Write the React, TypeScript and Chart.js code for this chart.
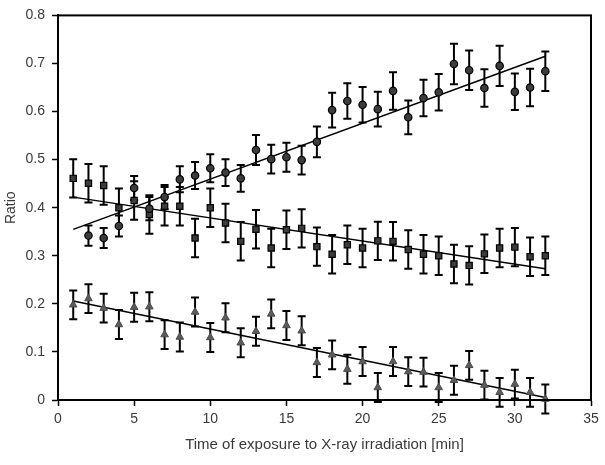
import React, { useEffect, useRef } from "react";
import { Chart, registerables } from "chart.js";

Chart.register(...registerables);

// Circles (increasing series)
const circleX = [2, 3, 4, 5, 6, 7, 8, 9, 10, 11, 12, 13, 14, 15, 16, 17, 18, 19, 20, 21, 22, 23, 24, 25, 26, 27, 28, 29, 30, 31, 32];
const circleY = [0.342, 0.337, 0.362, 0.441, 0.398, 0.422, 0.459, 0.467, 0.482, 0.473, 0.461, 0.520, 0.501, 0.505, 0.499, 0.537, 0.603, 0.622, 0.614, 0.605, 0.643, 0.588, 0.628, 0.640, 0.699, 0.686, 0.649, 0.695, 0.641, 0.650, 0.684];
const circleErr = [0.021, 0.021, 0.022, 0.025, 0.024, 0.025, 0.027, 0.028, 0.029, 0.028, 0.028, 0.031, 0.030, 0.030, 0.030, 0.032, 0.036, 0.037, 0.037, 0.036, 0.039, 0.035, 0.038, 0.038, 0.042, 0.041, 0.039, 0.042, 0.038, 0.039, 0.041];

// Squares (slowly decreasing series)
const squareX = [1, 2, 3, 4, 5, 6, 7, 8, 9, 10, 11, 12, 13, 14, 15, 16, 17, 18, 19, 20, 21, 22, 23, 24, 25, 26, 27, 28, 29, 30, 31, 32];
const squareY = [0.461, 0.451, 0.446, 0.400, 0.415, 0.386, 0.403, 0.403, 0.337, 0.400, 0.368, 0.330, 0.355, 0.316, 0.354, 0.357, 0.319, 0.303, 0.323, 0.316, 0.331, 0.330, 0.313, 0.303, 0.300, 0.283, 0.280, 0.304, 0.316, 0.318, 0.298, 0.300];
const squareErr = [0.04, 0.04, 0.04, 0.04, 0.04, 0.04, 0.04, 0.04, 0.04, 0.04, 0.04, 0.04, 0.04, 0.04, 0.04, 0.04, 0.04, 0.04, 0.04, 0.04, 0.04, 0.04, 0.04, 0.04, 0.04, 0.04, 0.04, 0.04, 0.04, 0.04, 0.04, 0.04];

// Triangles (decreasing series)
const triX = [1, 2, 3, 4, 5, 6, 7, 8, 9, 10, 11, 12, 13, 14, 15, 16, 17, 18, 19, 20, 21, 22, 23, 24, 25, 26, 27, 28, 29, 30, 31, 32];
const triY = [0.198, 0.211, 0.191, 0.157, 0.193, 0.194, 0.136, 0.131, 0.183, 0.130, 0.171, 0.119, 0.143, 0.179, 0.155, 0.144, 0.078, 0.094, 0.064, 0.080, 0.026, 0.080, 0.059, 0.058, 0.026, 0.041, 0.072, 0.031, 0.016, 0.033, 0.016, 0.002];
const triErr = [0.03, 0.03, 0.03, 0.03, 0.03, 0.03, 0.03, 0.03, 0.03, 0.03, 0.03, 0.03, 0.03, 0.03, 0.03, 0.03, 0.03, 0.03, 0.03, 0.03, 0.03, 0.03, 0.03, 0.03, 0.03, 0.03, 0.03, 0.03, 0.03, 0.03, 0.03, 0.03];

// Trend lines (endpoints)
const trendX = [1, 32];
const circleTrend = [0.355, 0.715];
const squareTrend = [0.422, 0.273];
const triTrend = [0.206, 0.005];

// Axis ticks
const xTicks = [0, 5, 10, 15, 20, 25, 30, 35];
const yTicks = [0, 0.1, 0.2, 0.3, 0.4, 0.5, 0.6, 0.7, 0.8];

const xTitle = "Time of exposure to X-ray irradiation [min]";
const yTitle = "Ratio";

const TEXT = "#3a3a3a";
const FAMILY = "'Liberation Sans', Arial, sans-serif";
const TICK_FONT = { family: FAMILY, size: 14 };
const XTITLE_FONT = { family: FAMILY, size: 15 };
const YTITLE_FONT = { family: FAMILY, size: 14 };

const pts = (xs: number[], ys: number[]) => xs.map((x, i) => ({ x, y: ys[i] }));

const errorSets = [
  { xs: circleX, ys: circleY, es: circleErr },
  { xs: squareX, ys: squareY, es: squareErr },
  { xs: triX, ys: triY, es: triErr },
];

const errorBarPlugin = {
  id: "errorBars",
  beforeDatasetsDraw(chart: any) {
    const { ctx, scales } = chart;
    const xs = scales.x;
    const ys = scales.y;
    ctx.save();
    ctx.strokeStyle = "#000";
    ctx.lineWidth = 2;
    for (const s of errorSets) {
      s.xs.forEach((x, i) => {
        const px = xs.getPixelForValue(x);
        const top = ys.getPixelForValue(s.ys[i] + s.es[i]);
        const bot = ys.getPixelForValue(s.ys[i] - s.es[i]);
        ctx.beginPath();
        ctx.moveTo(px, top);
        ctx.lineTo(px, bot);
        ctx.moveTo(px - 4, top);
        ctx.lineTo(px + 4, top);
        ctx.moveTo(px - 4, bot);
        ctx.lineTo(px + 4, bot);
        ctx.stroke();
      });
    }
    ctx.restore();
  },
};

const framePlugin = {
  id: "frame",
  afterDraw(chart: any) {
    const { ctx, chartArea } = chart;
    ctx.save();
    ctx.strokeStyle = "#000";
    ctx.lineWidth = 2;
    ctx.strokeRect(chartArea.left, chartArea.top, chartArea.right - chartArea.left, chartArea.bottom - chartArea.top);
    ctx.restore();
  },
};

export default function App() {
  const ref = useRef<HTMLCanvasElement | null>(null);
  useEffect(() => {
    if (!ref.current) return;
    const chart = new Chart(ref.current, {
      type: "scatter",
      data: {
        datasets: [
          {
            label: "circles",
            data: pts(circleX, circleY),
            pointStyle: "circle",
            pointRadius: 3.7,
            backgroundColor: "#3c3c3c",
            borderColor: "#000",
            borderWidth: 1.2,
            clip: false,
          } as any,
          {
            label: "squares",
            data: pts(squareX, squareY),
            pointStyle: "rect",
            pointRadius: 4.4,
            backgroundColor: "#3c3c3c",
            borderColor: "#000",
            borderWidth: 1.2,
            clip: false,
          },
          {
            label: "triangles",
            data: pts(triX, triY),
            pointStyle: "triangle",
            pointRadius: 4.4,
            backgroundColor: "#5c5c5c",
            borderColor: "#4a4a4a",
            borderWidth: 1,
            clip: false,
          },
          {
            type: "line",
            label: "circle trend",
            data: pts(trendX, circleTrend),
            borderColor: "#000",
            borderWidth: 1.5,
            pointRadius: 0,
            showLine: true,
          } as any,
          {
            type: "line",
            label: "square trend",
            data: pts(trendX, squareTrend),
            borderColor: "#000",
            borderWidth: 1.5,
            pointRadius: 0,
            showLine: true,
          } as any,
          {
            type: "line",
            label: "triangle trend",
            data: pts(trendX, triTrend),
            borderColor: "#000",
            borderWidth: 1.5,
            pointRadius: 0,
            showLine: true,
          } as any,
        ],
      },
      options: {
        animation: false,
        responsive: false,
        events: [],
        layout: { padding: { left: 0, top: 11, right: 14, bottom: 0 } },
        plugins: { legend: { display: false }, tooltip: { enabled: false } },
        scales: {
          x: {
            type: "linear",
            min: 0,
            max: 35,
            afterBuildTicks: (s: any) => {
              s.ticks = xTicks.map((v) => ({ value: v }));
            },
            afterFit: (s: any) => {
              s.height = 65;
            },
            grid: { drawOnChartArea: false, drawTicks: true, tickLength: 6, tickColor: "#000", tickWidth: 1.5 },
            border: { display: true, color: "#000", width: 2 },
            ticks: { color: TEXT, font: TICK_FONT, padding: 5, maxRotation: 0 },
            title: { display: true, text: xTitle, color: TEXT, font: XTITLE_FONT, padding: { top: 0, bottom: 11 } },
          },
          y: {
            type: "linear",
            min: 0,
            max: 0.8,
            afterBuildTicks: (s: any) => {
              s.ticks = yTicks.map((v) => ({ value: v }));
            },
            afterFit: (s: any) => {
              s.width = 58;
            },
            grid: { drawOnChartArea: false, drawTicks: true, tickLength: 6, tickColor: "#000", tickWidth: 1.5 },
            border: { display: true, color: "#000", width: 2 },
            ticks: { color: TEXT, font: TICK_FONT, padding: 7, callback: (v: any) => String(Math.round(Number(v) * 10) / 10) },
            title: { display: true, text: yTitle, color: TEXT, font: YTITLE_FONT, padding: { top: 3, bottom: 0 } },
          },
        },
      },
      plugins: [errorBarPlugin, framePlugin],
    });
    return () => chart.destroy();
  }, []);
  return (
    <canvas
      ref={ref}
      width={605}
      height={465}
      style={{ position: "absolute", left: 0, top: 0, width: 605, height: 465 }}
    />
  );
}
